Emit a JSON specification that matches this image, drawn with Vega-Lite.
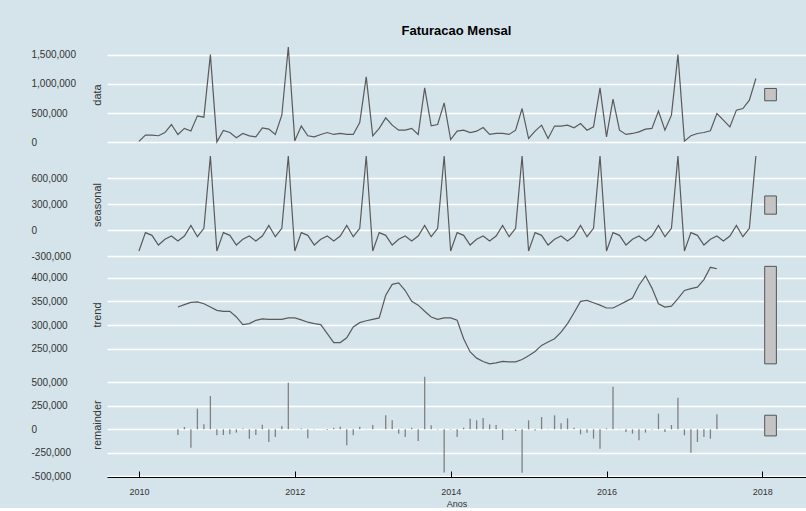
{
  "$schema": "https://vega.github.io/schema/vega-lite/v6.json",
  "padding": {"left": 31, "top": 25, "right": 0, "bottom": 0},
  "background": "#d5e4eb",
  "spacing": 5,
  "bounds": "flush",
  "datasets": {
    "ts": [
      {"t": 2010.0, "data": 20000, "seasonal": -240000},
      {"t": 2010.0833, "data": 125000, "seasonal": -28000},
      {"t": 2010.1667, "data": 125000, "seasonal": -59000},
      {"t": 2010.25, "data": 115000, "seasonal": -171000},
      {"t": 2010.3333, "data": 170000, "seasonal": -105000},
      {"t": 2010.4167, "data": 307000, "seasonal": -67000},
      {"t": 2010.5, "data": 137000, "seasonal": -125000, "trend": 338000, "remainder": -60000},
      {"t": 2010.5833, "data": 240000, "seasonal": -67000, "trend": 343000, "remainder": 25000},
      {"t": 2010.6667, "data": 195000, "seasonal": 56000, "trend": 348000, "remainder": -195000},
      {"t": 2010.75, "data": 455000, "seasonal": -75000, "trend": 349000, "remainder": 220000},
      {"t": 2010.8333, "data": 432000, "seasonal": 22000, "trend": 345000, "remainder": 53000},
      {"t": 2010.9167, "data": 1500000, "seasonal": 856000, "trend": 338000, "remainder": 355000},
      {"t": 2011.0, "data": 10000, "seasonal": -240000, "trend": 331000, "remainder": -64000},
      {"t": 2011.0833, "data": 205000, "seasonal": -28000, "trend": 329000, "remainder": -60000},
      {"t": 2011.1667, "data": 170000, "seasonal": -59000, "trend": 329000, "remainder": -53000},
      {"t": 2011.25, "data": 80000, "seasonal": -171000, "trend": 317000, "remainder": -35000},
      {"t": 2011.3333, "data": 154000, "seasonal": -105000, "trend": 301000, "remainder": 10000},
      {"t": 2011.4167, "data": 114000, "seasonal": -67000, "trend": 303000, "remainder": -99000},
      {"t": 2011.5, "data": 97000, "seasonal": -125000, "trend": 310000, "remainder": -60000},
      {"t": 2011.5833, "data": 250000, "seasonal": -67000, "trend": 313000, "remainder": 50000},
      {"t": 2011.6667, "data": 228000, "seasonal": 56000, "trend": 312000, "remainder": -135000},
      {"t": 2011.75, "data": 137000, "seasonal": -75000, "trend": 312000, "remainder": -82000},
      {"t": 2011.8333, "data": 466000, "seasonal": 22000, "trend": 312000, "remainder": 35000},
      {"t": 2011.9167, "data": 1630000, "seasonal": 856000, "trend": 315000, "remainder": 496000},
      {"t": 2012.0, "data": 28000, "seasonal": -240000, "trend": 315000, "remainder": 3000},
      {"t": 2012.0833, "data": 280000, "seasonal": -28000, "trend": 311000, "remainder": 10000},
      {"t": 2012.1667, "data": 114000, "seasonal": -59000, "trend": 306000, "remainder": -95000},
      {"t": 2012.25, "data": 97000, "seasonal": -171000, "trend": 303000, "remainder": -2000},
      {"t": 2012.3333, "data": 137000, "seasonal": -105000, "trend": 301000, "remainder": 2000},
      {"t": 2012.4167, "data": 170000, "seasonal": -67000, "trend": 282000, "remainder": -7000},
      {"t": 2012.5, "data": 137000, "seasonal": -125000, "trend": 263000, "remainder": 18000},
      {"t": 2012.5833, "data": 154000, "seasonal": -67000, "trend": 263000, "remainder": 28000},
      {"t": 2012.6667, "data": 137000, "seasonal": 56000, "trend": 273000, "remainder": -170000},
      {"t": 2012.75, "data": 137000, "seasonal": -75000, "trend": 296000, "remainder": -64000},
      {"t": 2012.8333, "data": 341000, "seasonal": 22000, "trend": 305000, "remainder": 28000},
      {"t": 2012.9167, "data": 1120000, "seasonal": 856000, "trend": 309000, "remainder": 3000},
      {"t": 2013.0, "data": 114000, "seasonal": -240000, "trend": 312000, "remainder": 46000},
      {"t": 2013.0833, "data": 240000, "seasonal": -28000, "trend": 315000, "remainder": 2000},
      {"t": 2013.1667, "data": 421000, "seasonal": -59000, "trend": 363000, "remainder": 149000},
      {"t": 2013.25, "data": 296000, "seasonal": -171000, "trend": 386000, "remainder": 96000},
      {"t": 2013.3333, "data": 210000, "seasonal": -105000, "trend": 389000, "remainder": -46000},
      {"t": 2013.4167, "data": 210000, "seasonal": -67000, "trend": 373000, "remainder": -82000},
      {"t": 2013.5, "data": 240000, "seasonal": -125000, "trend": 350000, "remainder": 18000},
      {"t": 2013.5833, "data": 137000, "seasonal": -67000, "trend": 342000, "remainder": -124000},
      {"t": 2013.6667, "data": 933000, "seasonal": 56000, "trend": 329000, "remainder": 560000},
      {"t": 2013.75, "data": 284000, "seasonal": -75000, "trend": 317000, "remainder": 43000},
      {"t": 2013.8333, "data": 307000, "seasonal": 22000, "trend": 312000, "remainder": -5000},
      {"t": 2013.9167, "data": 675000, "seasonal": 856000, "trend": 315000, "remainder": -458000},
      {"t": 2014.0, "data": 51000, "seasonal": -240000, "trend": 315000, "remainder": -5000},
      {"t": 2014.0833, "data": 193000, "seasonal": -28000, "trend": 310000, "remainder": -82000},
      {"t": 2014.1667, "data": 210000, "seasonal": -59000, "trend": 271000, "remainder": 18000},
      {"t": 2014.25, "data": 170000, "seasonal": -171000, "trend": 243000, "remainder": 113000},
      {"t": 2014.3333, "data": 193000, "seasonal": -105000, "trend": 230000, "remainder": 96000},
      {"t": 2014.4167, "data": 256000, "seasonal": -67000, "trend": 223000, "remainder": 121000},
      {"t": 2014.5, "data": 137000, "seasonal": -125000, "trend": 218000, "remainder": 53000},
      {"t": 2014.5833, "data": 154000, "seasonal": -67000, "trend": 220000, "remainder": 46000},
      {"t": 2014.6667, "data": 154000, "seasonal": 56000, "trend": 223000, "remainder": -113000},
      {"t": 2014.75, "data": 137000, "seasonal": -75000, "trend": 222000, "remainder": -3000},
      {"t": 2014.8333, "data": 210000, "seasonal": 22000, "trend": 222000, "remainder": -18000},
      {"t": 2014.9167, "data": 580000, "seasonal": 856000, "trend": 227000, "remainder": -461000},
      {"t": 2015.0, "data": 68000, "seasonal": -240000, "trend": 235000, "remainder": 96000},
      {"t": 2015.0833, "data": 193000, "seasonal": -28000, "trend": 244000, "remainder": -11000},
      {"t": 2015.1667, "data": 296000, "seasonal": -59000, "trend": 257000, "remainder": 131000},
      {"t": 2015.25, "data": 68000, "seasonal": -171000, "trend": 264000, "remainder": -3000},
      {"t": 2015.3333, "data": 280000, "seasonal": -105000, "trend": 271000, "remainder": 149000},
      {"t": 2015.4167, "data": 280000, "seasonal": -67000, "trend": 285000, "remainder": 64000},
      {"t": 2015.5, "data": 296000, "seasonal": -125000, "trend": 303000, "remainder": 117000},
      {"t": 2015.5833, "data": 250000, "seasonal": -67000, "trend": 326000, "remainder": 18000},
      {"t": 2015.6667, "data": 324000, "seasonal": 56000, "trend": 350000, "remainder": -53000},
      {"t": 2015.75, "data": 210000, "seasonal": -75000, "trend": 352000, "remainder": -35000},
      {"t": 2015.8333, "data": 267000, "seasonal": 22000, "trend": 347000, "remainder": -99000},
      {"t": 2015.9167, "data": 933000, "seasonal": 856000, "trend": 342000, "remainder": -206000},
      {"t": 2016.0, "data": 97000, "seasonal": -240000, "trend": 336000, "remainder": 10000},
      {"t": 2016.0833, "data": 740000, "seasonal": -28000, "trend": 336000, "remainder": 454000},
      {"t": 2016.1667, "data": 210000, "seasonal": -59000, "trend": 343000, "remainder": 3000},
      {"t": 2016.25, "data": 137000, "seasonal": -171000, "trend": 350000, "remainder": -28000},
      {"t": 2016.3333, "data": 154000, "seasonal": -105000, "trend": 357000, "remainder": -46000},
      {"t": 2016.4167, "data": 182000, "seasonal": -67000, "trend": 384000, "remainder": -117000},
      {"t": 2016.5, "data": 228000, "seasonal": -125000, "trend": 404000, "remainder": -35000},
      {"t": 2016.5833, "data": 240000, "seasonal": -67000, "trend": 378000, "remainder": -5000},
      {"t": 2016.6667, "data": 535000, "seasonal": 56000, "trend": 345000, "remainder": 167000},
      {"t": 2016.75, "data": 210000, "seasonal": -75000, "trend": 338000, "remainder": -28000},
      {"t": 2016.8333, "data": 466000, "seasonal": 22000, "trend": 340000, "remainder": 46000},
      {"t": 2016.9167, "data": 1500000, "seasonal": 856000, "trend": 356000, "remainder": 337000},
      {"t": 2017.0, "data": 23000, "seasonal": -240000, "trend": 373000, "remainder": -64000},
      {"t": 2017.0833, "data": 114000, "seasonal": -28000, "trend": 377000, "remainder": -248000},
      {"t": 2017.1667, "data": 154000, "seasonal": -59000, "trend": 380000, "remainder": -135000},
      {"t": 2017.25, "data": 170000, "seasonal": -171000, "trend": 396000, "remainder": -82000},
      {"t": 2017.3333, "data": 200000, "seasonal": -105000, "trend": 422000, "remainder": -99000},
      {"t": 2017.4167, "data": 495000, "seasonal": -67000, "trend": 419000, "remainder": 160000},
      {"t": 2017.5, "data": 381000, "seasonal": -125000},
      {"t": 2017.5833, "data": 267000, "seasonal": -67000},
      {"t": 2017.6667, "data": 552000, "seasonal": 56000},
      {"t": 2017.75, "data": 580000, "seasonal": -75000},
      {"t": 2017.8333, "data": 722000, "seasonal": 22000},
      {"t": 2017.9167, "data": 1092000, "seasonal": 856000}
    ]
  },
  "vconcat": [
    {
      "width": 699,
      "height": 105,
      "title": {"text": "Faturacao Mensal", "fontSize": 13, "fontWeight": "bold", "anchor": "middle", "offset": -6, "baseline": "alphabetic", "color": "black"},
      "layer": [
        {
          "data": {"name": "ts"},
          "mark": {"type": "line", "color": "#5a5a5a", "strokeWidth": 1.2},
          "encoding": {
            "x": {"field": "t", "type": "quantitative", "scale": {"domain": [2009.59, 2018.56], "nice": false, "zero": false}, "axis": null},
            "y": {"field": "data", "type": "quantitative", "scale": {"domain": [-77000, 1715000], "nice": false, "zero": false}, "axis": {"title": "data", "values": [0, 500000, 1000000, 1500000], "tickCount": 20}}
          }
        },
        {
          "data": {"values": [{"lo": 712000, "hi": 922000}]},
          "mark": {"type": "rect", "fill": "#c4c4c4", "stroke": "#555555", "strokeWidth": 1},
          "encoding": {
            "x": {"datum": 2018.03, "type": "quantitative"},
            "x2": {"datum": 2018.18},
            "y": {"field": "lo", "type": "quantitative"},
            "y2": {"field": "hi"}
          }
        }
      ]
    },
    {
      "width": 699,
      "height": 105,
      "layer": [
        {
          "data": {"name": "ts"},
          "mark": {"type": "line", "color": "#5a5a5a", "strokeWidth": 1.2},
          "encoding": {
            "x": {"field": "t", "type": "quantitative", "scale": {"domain": [2009.59, 2018.56], "nice": false, "zero": false}, "axis": null},
            "y": {"field": "seasonal", "type": "quantitative", "scale": {"domain": [-309000, 902000], "nice": false, "zero": false}, "axis": {"title": "seasonal", "values": [-300000, 0, 300000, 600000], "tickCount": 20}}
          }
        },
        {
          "data": {"values": [{"lo": 185000, "hi": 395000}]},
          "mark": {"type": "rect", "fill": "#c4c4c4", "stroke": "#555555", "strokeWidth": 1},
          "encoding": {
            "x": {"datum": 2018.03, "type": "quantitative"},
            "x2": {"datum": 2018.18},
            "y": {"field": "lo", "type": "quantitative"},
            "y2": {"field": "hi"}
          }
        }
      ]
    },
    {
      "width": 699,
      "height": 105,
      "layer": [
        {
          "data": {"name": "ts"},
          "mark": {"type": "line", "color": "#5a5a5a", "strokeWidth": 1.2},
          "encoding": {
            "x": {"field": "t", "type": "quantitative", "scale": {"domain": [2009.59, 2018.56], "nice": false, "zero": false}, "axis": null},
            "y": {"field": "trend", "type": "quantitative", "scale": {"domain": [211300, 433200], "nice": false, "zero": false}, "axis": {"title": "trend", "values": [250000, 300000, 350000, 400000], "tickCount": 20}}
          }
        },
        {
          "data": {"values": [{"lo": 218000, "hi": 424000}]},
          "mark": {"type": "rect", "fill": "#c4c4c4", "stroke": "#555555", "strokeWidth": 1},
          "encoding": {
            "x": {"datum": 2018.03, "type": "quantitative"},
            "x2": {"datum": 2018.18},
            "y": {"field": "lo", "type": "quantitative"},
            "y2": {"field": "hi"}
          }
        }
      ]
    },
    {
      "width": 699,
      "height": 105,
      "layer": [
        {
          "data": {"name": "ts"},
          "mark": {"type": "rule", "color": "#808080", "strokeWidth": 1.3},
          "encoding": {
            "x": {"field": "t", "type": "quantitative", "scale": {"domain": [2009.59, 2018.56], "nice": false, "zero": false}, "axis": {"title": "Anos", "values": [2010, 2012, 2014, 2016, 2018], "tickCount": 20}},
            "y": {"field": "remainder", "type": "quantitative", "scale": {"domain": [-507000, 610000], "nice": false, "zero": false}, "axis": {"title": "remainder", "values": [-500000, -250000, 0, 250000, 500000], "tickCount": 20}},
            "y2": {"datum": 0}
          }
        },
        {
          "mark": {"type": "rule", "color": "#555555", "strokeWidth": 1},
          "encoding": {"y": {"datum": 0, "type": "quantitative"}}
        },
        {
          "data": {"values": [{"lo": -70000, "hi": 150000}]},
          "mark": {"type": "rect", "fill": "#c4c4c4", "stroke": "#555555", "strokeWidth": 1},
          "encoding": {
            "x": {"datum": 2018.03, "type": "quantitative"},
            "x2": {"datum": 2018.18},
            "y": {"field": "lo", "type": "quantitative"},
            "y2": {"field": "hi"}
          }
        }
      ]
    }
  ],
  "config": {
    "view": {"stroke": null},
    "font": "Liberation Sans",
    "axisY": {
      "labelAlign": "left",
      "labelPadding": 76,
      "labelOverlap": false,
      "labelBound": false,
      "tickCount": 20,
      "ticks": false,
      "domain": false,
      "grid": true,
      "gridColor": "white",
      "gridWidth": 1.6,
      "gridOpacity": 1,
      "labelFontSize": 10,
      "labelColor": "#333333",
      "titleFontSize": 11,
      "titleFontWeight": "normal",
      "titleColor": "#333333",
      "titleAngle": -90,
      "titleX": -5,
      "titleY": 52.5,
      "titleAlign": "center",
      "titleBaseline": "bottom",
      "format": ",d",
      "labelExpr": "replace(datum.label, '\u2212', '-')"
    },
    "axisX": {
      "grid": false,
      "domainColor": "black",
      "domainWidth": 1,
      "tickColor": "black",
      "tickSize": -6,
      "labelPadding": 16,
      "labelFontSize": 9,
      "labelColor": "#333333",
      "titleFontSize": 9,
      "titleFontWeight": "normal",
      "titleColor": "#333333",
      "titlePadding": 3,
      "format": "d"
    }
  }
}
